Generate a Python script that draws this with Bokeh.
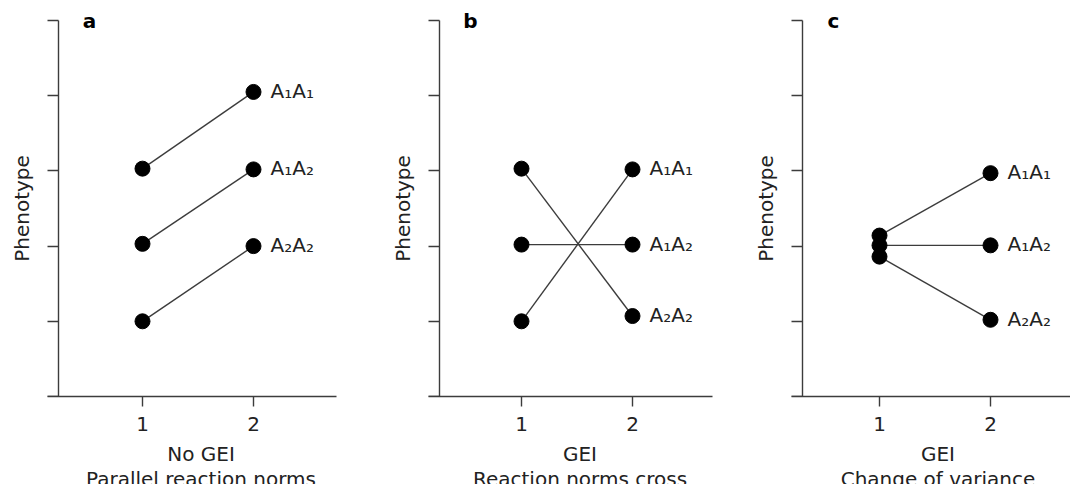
import math
from bokeh.plotting import figure
from bokeh.layouts import row, column
from bokeh.models import ColumnDataSource, FixedTicker, Label, Range1d
from bokeh.core.properties import value
from bokeh.embed import file_html
from bokeh.resources import INLINE

# ---------------- data ----------------
environments = [1, 2]
env_labels = ["1", "2"]
genotypes = ["A₁A₁", "A₁A₂", "A₂A₂"]
panel_letters = ["a", "b", "c"]
panel_xlabels = [
    ["No GEI", "Parallel reaction norms"],
    ["GEI", "Reaction norms cross"],
    ["GEI", "Change of variance"],
]
y_label = "Phenotype"

# phenotype per genotype (A1A1, A1A2, A2A2) in environment 1 and 2
a_env1 = [3.03, 2.03, 1.0]
a_env2 = [4.05, 3.02, 2.0]
b_env1 = [1.0, 2.02, 3.03]
b_env2 = [3.02, 2.02, 1.07]
c_env1 = [2.14, 2.01, 1.86]
c_env2 = [2.97, 2.01, 1.02]

y_ticks = [0, 1, 2, 3, 4, 5]

panels = [
    (a_env1, a_env2),
    (b_env1, b_env2),
    (c_env1, c_env2),
]

# ---------------- layout ----------------
PX = 111.0          # pixels per x unit
TICK = 11           # y tick length (px)
LEFT = 11           # left border of each figure
FRAME_H = 396
PLOT_H = 408        # height of the plotting row
CAP_H = 76          # height of the caption row below it
TICK_BASELINE = 15  # px from the top of the caption frame
CAP_BASELINES = [45, 70]
# (x_start, y-axis location, x-axis end, figure width)
geometry = [
    (1 - 131 / PX, 1 - 84 / PX, 2 + 83 / PX, 360),
    (1 - 150 / PX, 1 - 82 / PX, 2 + 80 / PX, 370),
    (1 - 138 / PX, 1 - 77 / PX, 2 + 80 / PX, 340),
]
Y_TOP = 5.266  # frame extends a little above the last tick (room for panel letter)

FONT = "DejaVu Sans"
FS = "20px"
INK = "#222222"
LINE = "#3c3c3c"

figs = []
caps = []
for i, ((env1, env2), (xs, yloc, xend, fig_w)) in enumerate(zip(panels, geometry)):
    fw = fig_w - LEFT
    p = figure(
        frame_width=fw, frame_height=FRAME_H,
        x_range=(xs, xs + fw / PX), y_range=(y_ticks[0], Y_TOP),
        min_border_left=LEFT, min_border_right=0,
        min_border_top=0, min_border_bottom=PLOT_H - FRAME_H,
        output_backend="svg", toolbar_location=None,
    )
    p.outline_line_color = None
    p.grid.visible = False
    p.background_fill_color = "white"
    p.border_fill_color = "white"

    # y axis (drawn at a fixed x inside the frame)
    yax = p.yaxis[0]
    yax.fixed_location = yloc
    yax.axis_label = None
    yax.ticker = FixedTicker(ticks=y_ticks)
    yax.bounds = (y_ticks[0], y_ticks[-1])
    yax.major_label_overrides = {t: "" for t in y_ticks}
    yax.major_label_standoff = 0
    yax.major_tick_out = TICK
    yax.major_tick_in = 0
    yax.minor_tick_out = 0
    yax.minor_tick_in = 0
    yax.axis_line_color = LINE
    yax.axis_line_width = 1.4
    yax.major_tick_line_color = LINE
    yax.major_tick_line_width = 1.4

    # x axis (tick labels are drawn in the caption row below)
    xax = p.xaxis[0]
    xax.axis_label = None
    xax.axis_label_standoff = 0
    xax.ticker = FixedTicker(ticks=environments)
    xax.bounds = (yloc - TICK / PX, xend)
    xax.major_label_overrides = {t: "" for t in environments}
    xax.major_label_text_font_size = "1px"
    xax.major_label_standoff = 0
    xax.major_tick_out = 10
    xax.major_tick_in = 0
    xax.minor_tick_out = 0
    xax.minor_tick_in = 0
    xax.axis_line_color = LINE
    xax.axis_line_width = 1.4
    xax.major_tick_line_color = LINE
    xax.major_tick_line_width = 1.4

    src = ColumnDataSource(dict(
        x1=[environments[0]] * len(genotypes),
        x2=[environments[1]] * len(genotypes),
        y1=env1, y2=env2, label=genotypes,
    ))
    p.segment(x0="x1", y0="y1", x1="x2", y1="y2", source=src,
              line_color=LINE, line_width=1.4)
    p.scatter(x="x1", y="y1", source=src, size=15,
              fill_color="black", line_color="black")
    p.scatter(x="x2", y="y2", source=src, size=15,
              fill_color="black", line_color="black")
    p.text(x="x2", y="y2", text="label", source=src,
           x_offset=17, y_offset=-1,
           text_font=value(FONT), text_font_size=FS,
           text_color=INK, text_align="left", text_baseline="middle")

    # y axis title, rotated, centred on the axis extent
    p.text(x=[yloc], y=[(y_ticks[0] + y_ticks[-1]) / 2], text=[y_label],
           angle=math.pi / 2, x_offset=-37,
           text_font=value(FONT), text_font_size=FS, text_color=INK,
           text_align="center", text_baseline="middle")

    p.add_layout(Label(x=yloc, y=y_ticks[-1], x_offset=31, text=panel_letters[i],
                       text_font=FONT, text_font_size="20px",
                       text_font_style="bold", text_color="black",
                       text_align="center", text_baseline="middle"))
    figs.append(p)

    # caption row: tick labels and x axis title, sharing the same x mapping
    c = figure(
        frame_width=fw, frame_height=CAP_H,
        x_range=p.x_range, y_range=Range1d(CAP_H, 0),
        min_border_left=LEFT, min_border_right=0,
        min_border_top=0, min_border_bottom=0,
        x_axis_location=None, y_axis_location=None,
        output_backend="svg", toolbar_location=None,
    )
    c.outline_line_color = None
    c.grid.visible = False
    c.background_fill_color = "white"
    c.border_fill_color = "white"
    c.text(x=environments, y=[TICK_BASELINE] * len(environments), text=env_labels,
           text_font=value(FONT), text_font_size=FS, text_color=INK,
           text_align="center", text_baseline="alphabetic")
    mid = sum(environments) / len(environments)
    c.text(x=[mid] * len(panel_xlabels[i]), y=CAP_BASELINES,
           text=panel_xlabels[i], x_offset=3,
           text_font=value(FONT), text_font_size=FS, text_color=INK,
           text_align="center", text_baseline="alphabetic")
    caps.append(c)

layout = column(row(*figs, spacing=0), row(*caps, spacing=0), spacing=0)
open("out.html", "w").write(file_html(layout, INLINE))
